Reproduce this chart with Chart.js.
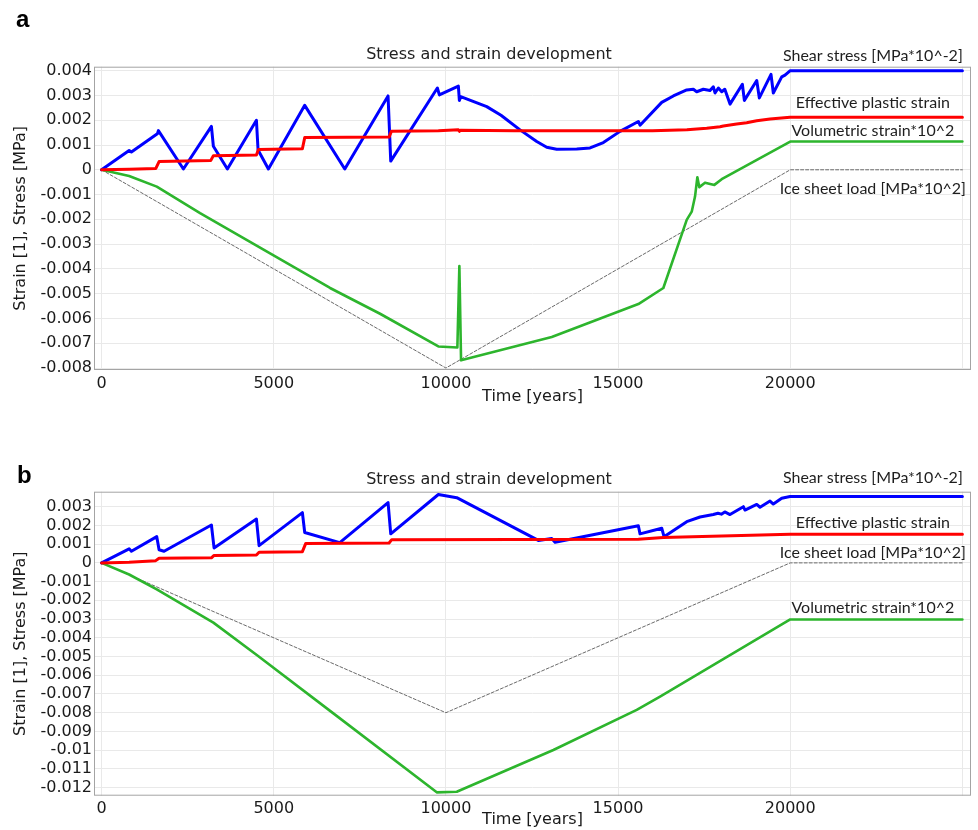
<!DOCTYPE html>
<html>
<head>
<meta charset="utf-8">
<script src="https://cdn.jsdelivr.net/npm/chart.js@4.4.0/dist/chart.umd.min.js"></script>
<style>
  html, body { margin: 0; padding: 0; background: #fff; width: 978px; height: 830px; overflow: hidden; }
  .panel { position: absolute; left: 0; width: 978px; height: 415px; }
  #panelA { top: 0; }
  #panelB { top: 415px; }
</style>
</head>
<body>
<div class="panel" id="panelA"><canvas id="chartA" width="978" height="415"></canvas></div>
<div class="panel" id="panelB"><canvas id="chartB" width="978" height="415"></canvas></div>
<script>
// ---- Panel a: time [years] and values ----
const shearTimeA = [0, 800, 866, 1620, 1650, 2376, 3190, 3247, 3654, 4497, 4545, 4845, 5900, 7063, 8320, 8398,
  9752, 9810, 10362, 10391, 10430, 11186, 11600, 12153, 12638, 12928, 13218, 13800, 14186, 14573, 15057, 15589,
  15638, 16268, 16605, 16994, 17186, 17283, 17476, 17670, 17767, 17816, 17913, 18010, 18100, 18251, 18610,
  18668, 19027, 19103, 19442, 19509, 19753, 19849, 20000, 25000];
const shearA = [0, 0.00078, 0.00072, 0.00145, 0.00158, 0.00003, 0.00175, 0.00095, 0.00003, 0.0020, 0.0008, 0.00003,
  0.0026, 0.00003, 0.00298, 0.00035, 0.0033, 0.00302, 0.00338, 0.0028, 0.00295, 0.00255, 0.0022, 0.00161,
  0.00114, 0.00091, 0.00083, 0.00084, 0.00088, 0.0011, 0.00155, 0.00195, 0.0018, 0.00272, 0.00298, 0.00322,
  0.00325, 0.00315, 0.00325, 0.0032, 0.00335, 0.0031, 0.0033, 0.00315, 0.00325, 0.00265, 0.00345, 0.0028,
  0.0036, 0.0029, 0.00385, 0.0031, 0.00375, 0.00382, 0.0040, 0.0040];

const plasticTimeA = [0, 800, 1573, 1670, 3170, 3247, 4497, 4555, 5832, 5900, 8349, 8417, 9781, 10362, 10391,
  10420, 12000, 16000, 17000, 17574, 17961, 18058, 18445, 18735, 19026, 19413, 19994, 25000];
const plasticA = [0, 0.00002, 0.00005, 0.00033, 0.00037, 0.00057, 0.0006, 0.00082, 0.00085, 0.0013, 0.00132,
  0.00155, 0.00158, 0.00162, 0.00155, 0.0016, 0.00158, 0.00158, 0.00162, 0.00168, 0.00174, 0.00177, 0.00185,
  0.0019, 0.00198, 0.00205, 0.00212, 0.00212];

const volTimeA = [0, 800, 1603, 2860, 6636, 8088, 9781, 10333, 10391, 10440, 13074, 15589, 16315, 16994, 17139,
  17235, 17303, 17360, 17526, 17797, 18010, 20000, 25000];
const volA = [0, -0.00025, -0.00068, -0.00175, -0.00477, -0.00581, -0.00713, -0.00717, -0.00388, -0.00769,
  -0.00675, -0.00542, -0.00477, -0.00202, -0.00169, -0.00108, -0.0003, -0.0007, -0.00052, -0.00061, -0.00038,
  0.00114, 0.00114];

// ---- Panel b: time [years] and values ----
const shearTimeB = [0, 800, 866, 1603, 1670, 1815, 3190, 3267, 4497, 4574, 5832, 5900, 6918, 8320, 8398, 9781,
  10315, 12685, 13074, 13170, 15589, 15638, 16268, 16335, 16994, 17380, 17767, 17900, 18000, 18100, 18251,
  18639, 18687, 19027, 19123, 19413, 19509, 19753, 19994, 25000];
const shearB = [0, 0.00075, 0.00062, 0.0014, 0.0007, 0.00062, 0.00202, 0.0008, 0.00234, 0.00092, 0.00268,
  0.00162, 0.00108, 0.00322, 0.00155, 0.00365, 0.00348, 0.0012, 0.0013, 0.0011, 0.00198, 0.00155, 0.00185,
  0.0014, 0.0022, 0.00245, 0.00258, 0.00265, 0.0026, 0.00272, 0.00258, 0.003, 0.00282, 0.00312, 0.00297,
  0.0033, 0.00314, 0.00345, 0.00354, 0.00354];

const plasticTimeB = [0, 800, 1573, 1670, 3190, 3267, 4497, 4574, 5832, 5930, 8349, 8427, 15589, 16315, 20000, 25000];
const plasticB = [0, 0.00003, 0.00012, 0.00025, 0.00027, 0.0004, 0.00042, 0.00057, 0.0006, 0.00104, 0.00106,
  0.00124, 0.00126, 0.00135, 0.00153, 0.00153];

const volTimeB = [0, 800, 1603, 3247, 4507, 6636, 9734, 10315, 13121, 15542, 16219, 20000, 25000];
const volB = [0, -0.00062, -0.00141, -0.00319, -0.00492, -0.0079, -0.01225, -0.01222, -0.00999, -0.00785,
  -0.00714, -0.00302, -0.00302];

// ---- Ice sheet load (same in both panels) ----
const iceTime = [0, 10000, 20000, 25000];
const iceLoad = [0, -0.008, 0, 0];

// ---- Time axis ticks (the last one carries a grid line only) ----
const timeTicks = [0, 5000, 10000, 15000, 20000, 25000];
const timeTickLabels = ['0', '5000', '10000', '15000', '20000', ''];

// ---- Series names ----
const nameShear = 'Shear stress [MPa*10^-2]';
const namePlastic = 'Effective plastic strain';
const nameVol = 'Volumetric strain*10^2';
const nameIce = 'Ice sheet load [MPa*10^2]';

const toPoints = (xs, ys) => xs.map((x, i) => ({ x: x, y: ys[i] }));

const FONT = "'DejaVu Sans', sans-serif";

// Gray frame around the plotting area
const framePlugin = {
  id: 'plotFrame',
  beforeDatasetsDraw(chart) {
    const { ctx, chartArea: a } = chart;
    ctx.save();
    ctx.strokeStyle = '#a4a4a4';
    ctx.lineWidth = 1;
    ctx.strokeRect(a.left + 0.5, a.top + 0.5, a.right - a.left - 1, a.bottom - a.top - 1);
    ctx.restore();
  }
};

// Panel letter and in-plot curve names
const notesPlugin = {
  id: 'notes',
  afterDraw(chart, args, opts) {
    const { ctx } = chart;
    const xs = chart.scales.x, ys = chart.scales.y;
    ctx.save();
    ctx.fillStyle = '#000';
    ctx.font = "bold 24px 'Liberation Sans', Arial, sans-serif";
    ctx.textAlign = 'left';
    ctx.textBaseline = 'alphabetic';
    ctx.fillText(opts.letter, opts.letterX, opts.letterY);
    ctx.font = "16px Lato, 'Open Sans', sans-serif";
    ctx.fillStyle = '#1e1e1e';
    ctx.textAlign = 'center';
    ctx.textBaseline = 'middle';
    opts.names.forEach((n, i) => {
      ctx.fillText(n, xs.getPixelForValue(opts.nameX), ys.getPixelForValue(opts.nameY[i]));
    });
    ctx.restore();
  }
};

function makePanel(canvasId, p) {
  return new Chart(document.getElementById(canvasId), {
    type: 'line',
    data: {
      datasets: [
        { label: namePlastic, data: toPoints(p.plasticTime, p.plastic), borderColor: '#ff0000', borderWidth: 3 },
        { label: nameShear, data: toPoints(p.shearTime, p.shear), borderColor: '#0000ff', borderWidth: 3 },
        { label: nameVol, data: toPoints(p.volTime, p.vol), borderColor: '#2db52d', borderWidth: 2.6 },
        { label: nameIce, data: toPoints(iceTime, iceLoad), borderColor: '#6a6a6a', borderWidth: 1, borderDash: [3, 2] }
      ]
    },
    options: {
      responsive: false,
      animation: false,
      parsing: false,
      elements: { point: { radius: 0 }, line: { tension: 0, borderJoinStyle: 'round', borderCapStyle: 'round' } },
      layout: { padding: { left: 0, right: 0, top: 0, bottom: 0 } },
      plugins: {
        legend: { display: false },
        tooltip: { enabled: false },
        title: {
          display: true,
          text: 'Stress and strain development',
          color: '#222',
          font: { family: FONT, size: 16, weight: 'normal', lineHeight: 1.2 },
          padding: { top: p.titleTop, bottom: p.titleBottom }
        },
        notes: {
          letter: p.letter, letterX: p.letterX, letterY: p.letterY,
          names: p.names, nameX: 22400, nameY: p.nameY
        }
      },
      scales: {
        x: {
          type: 'linear',
          min: -220,
          max: 25250,
          afterBuildTicks(s) { s.ticks = timeTicks.map(v => ({ value: v })); },
          afterFit(s) { s.height = p.xHeight; },
          grid: { color: '#e9e9e9', drawTicks: false },
          border: { display: false },
          ticks: {
            autoSkip: false,
            maxRotation: 0,
            padding: 4,
            color: '#1a1a1a',
            font: { family: FONT, size: 16 },
            callback: (v, i) => timeTickLabels[i]
          },
          title: {
            display: true,
            text: 'Time [years]',
            color: '#1a1a1a',
            font: { family: FONT, size: 16, lineHeight: 1.2 },
            padding: { top: 0, bottom: p.xTitlePad }
          }
        },
        y: {
          type: 'linear',
          position: 'left',
          min: p.yMin,
          max: p.yMax,
          afterFit(s) { s.width = 94; },
          grid: { color: '#e9e9e9', drawTicks: false },
          border: { display: false },
          ticks: {
            stepSize: 0.001,
            includeBounds: false,
            autoSkip: false,
            padding: 2,
            color: '#1a1a1a',
            font: { family: FONT, size: 16 },
            callback: v => { const s = parseFloat(Number(v).toFixed(4)); return s === 0 ? '0' : String(s); }
          },
          title: {
            display: true,
            text: 'Strain [1], Stress [MPa]',
            color: '#1a1a1a',
            font: { family: FONT, size: 16, lineHeight: 1.2 },
            padding: { top: 11, bottom: 0 }
          }
        },
        yRight: {
          type: 'linear',
          position: 'right',
          display: true,
          afterFit(s) { s.width = 7; },
          grid: { display: false },
          border: { display: false },
          ticks: { display: false }
        }
      }
    },
    plugins: [framePlugin, notesPlugin]
  });
}

makePanel('chartA', {
  shearTime: shearTimeA, shear: shearA,
  plasticTime: plasticTimeA, plastic: plasticA,
  volTime: volTimeA, vol: volA,
  yMin: -0.00808, yMax: 0.00416,
  titleTop: 45, titleBottom: 2.5,
  xHeight: 45, xTitlePad: 8.4,
  letter: 'a', letterX: 16, letterY: 27,
  names: [nameShear, namePlastic, nameVol, nameIce],
  nameY: [0.00459, 0.00271, 0.00158, -0.00077]
});

makePanel('chartB', {
  shearTime: shearTimeB, shear: shearB,
  plasticTime: plasticTimeB, plastic: plasticB,
  volTime: volTimeB, vol: volB,
  yMin: -0.01243, yMax: 0.0038,
  titleTop: 55.4, titleBottom: 2.1,
  xHeight: 34.3, xTitlePad: 0.4,
  letter: 'b', letterX: 17, letterY: 68,
  names: [nameShear, namePlastic, nameIce, nameVol],
  nameY: [0.00455, 0.00213, 0.00053, -0.00241]
});
</script>
</body>
</html>
